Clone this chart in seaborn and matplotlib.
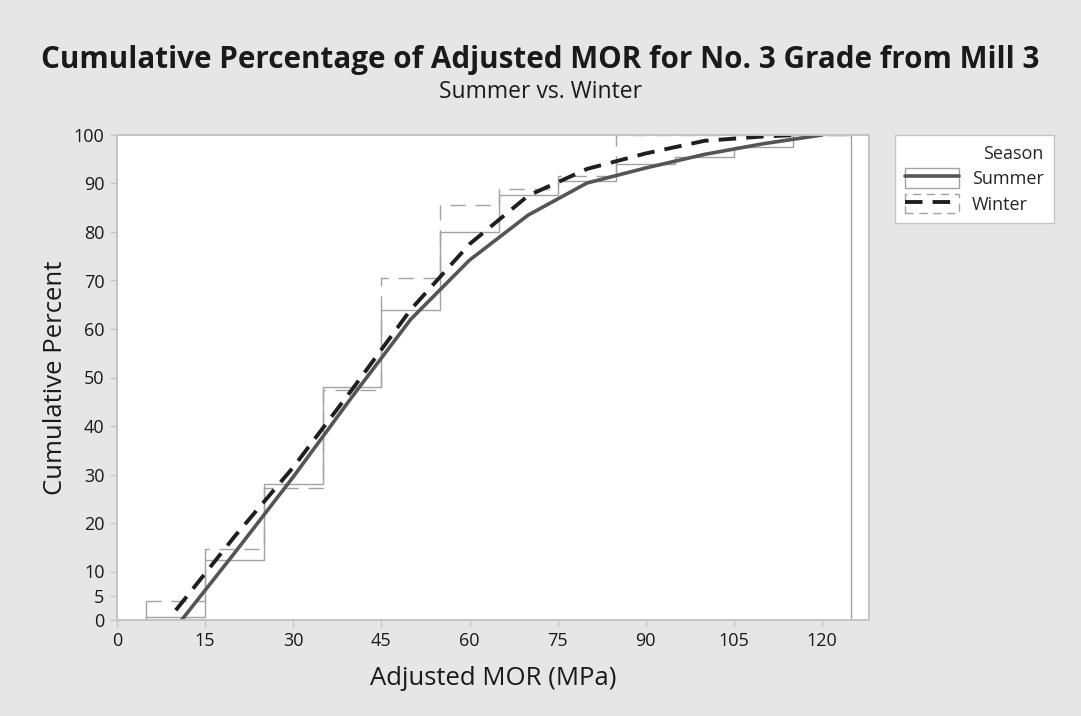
import numpy as np
import pandas as pd
import matplotlib
matplotlib.use("Agg")
import matplotlib.pyplot as plt
import seaborn as sns
from matplotlib.patches import Rectangle
from matplotlib.lines import Line2D

# ---- data ----
bin_edges = [5, 15, 25, 35, 45, 55, 65, 75, 85, 95, 105, 115, 125]
bin_centers = [10, 20, 30, 40, 50, 60, 70, 80, 90, 100, 110, 120]
summer_cum = [0.6, 12.4, 28.0, 48.0, 64.0, 80.0, 87.6, 90.5, 94.0, 95.5, 97.6, 100.0]
winter_cum = [4.0, 14.6, 27.2, 47.5, 70.6, 85.5, 88.9, 91.5, 100.0, 100.0, 100.0, 100.0]

summer_fit_x = [11, 20, 30, 40, 50, 60, 70, 80, 90, 100, 110, 120]
summer_fit_y = [0.0, 13.8, 29.5, 46.0, 62.0, 74.2, 83.5, 90.1, 93.2, 96.0, 98.2, 100.0]
winter_fit_x = [10, 20, 30, 40, 50, 60, 70, 80, 90, 100, 110, 116]
winter_fit_y = [2.0, 17.2, 31.5, 47.5, 64.0, 77.5, 87.5, 93.0, 96.2, 98.8, 99.7, 100.0]

x_ticks = [0, 15, 30, 45, 60, 75, 90, 105, 120]
y_ticks = [0, 5, 10, 20, 30, 40, 50, 60, 70, 80, 90, 100]

title = "Cumulative Percentage of Adjusted MOR for No. 3 Grade from Mill 3"
subtitle = "Summer vs. Winter"
xlabel = "Adjusted MOR (MPa)"
ylabel = "Cumulative Percent"
seasons = ["Summer", "Winter"]

# ---- style ----
sns.set_theme(style="white")
plt.rcParams["font.family"] = ["Open Sans", "DejaVu Sans"]
BG = "#e6e6e6"
STEP_C = "#a3a3a3"
SUM_C = "#555555"
WIN_C = "#1f1f1f"
SPINE_C = "#c4c4c4"
TXT_C = "#1a1a1a"

fig = plt.figure(figsize=(10.81, 7.16), dpi=100, facecolor=BG)
ax = fig.add_axes([117 / 1081, 1 - 620 / 716, (869 - 117) / 1081, (620 - 135) / 716])
ax.set_facecolor("white")

# step histograms (cumulative percentages as weights)
sns.histplot(x=bin_centers, weights=summer_cum, bins=bin_edges, element="step",
             fill=False, color=STEP_C, linewidth=1.0, ax=ax)
sns.histplot(x=bin_centers, weights=winter_cum, bins=bin_edges, element="step",
             fill=False, color=STEP_C, linewidth=1.0, linestyle=(0, (11, 7)), ax=ax)
# closing edges of the step outlines
ax.vlines([bin_edges[0]], 0, [summer_cum[0]], color=STEP_C, linewidth=1.0)
ax.vlines([bin_edges[0]], 0, [winter_cum[0]], color=STEP_C, linewidth=1.0)
ax.vlines([bin_edges[-1]], 0, [max(summer_cum[-1], winter_cum[-1])], color=STEP_C, linewidth=1.0)

# fitted curves
sns.lineplot(x=summer_fit_x, y=summer_fit_y, color=SUM_C, linewidth=2.6, ax=ax,
             sort=False, estimator=None)
sns.lineplot(x=winter_fit_x, y=winter_fit_y, color=WIN_C, linewidth=2.8, ax=ax,
             sort=False, estimator=None, linestyle=(0, (4.5, 2.6)))

ax.set_xlim(0, 128)
ax.set_ylim(0, 100)
ax.set_xticks(x_ticks)
ax.set_yticks(y_ticks)
ax.tick_params(axis="both", which="both", direction="out", length=5, width=1,
               color=SPINE_C, labelsize=13, labelcolor=TXT_C, pad=4,
               bottom=True, left=True)
for s in ax.spines.values():
    s.set_color(SPINE_C)
    s.set_linewidth(1.4)
    s.set_visible(True)
    s.set_zorder(5)

ax.set_xlabel(xlabel, fontsize=18.5, color=TXT_C, labelpad=11)
ax.set_ylabel(ylabel, fontsize=18.5, color=TXT_C, labelpad=4)

fig.text(0.5, 1 - 60 / 716, title, ha="center", va="center", fontsize=21.3,
         fontweight="bold", color=TXT_C)
fig.text(0.5, 1 - 92 / 716, subtitle, ha="center", va="center", fontsize=16.5,
         color=TXT_C)

# legend
h_sum = (Rectangle((0, 0), 1, 1, facecolor="white", edgecolor=STEP_C, linewidth=1.0),
         Line2D([0], [0], color=SUM_C, linewidth=2.6))
h_win = (Rectangle((0, 0), 1, 1, facecolor="white", edgecolor=STEP_C, linewidth=1.0,
                   linestyle=(0, (6, 4))),
         Line2D([0], [0], color=WIN_C, linewidth=2.8, linestyle=(0, (4.5, 2.6))))
leg = fig.legend([h_sum, h_win], seasons, title="Season", loc="upper left",
                 bbox_to_anchor=(895 / 1081, 1 - 135 / 716), borderaxespad=0,
                 frameon=True, framealpha=1, facecolor="white",
                 fontsize=13, title_fontsize=13, handlelength=3.0,
                 handleheight=1.3, handletextpad=0.7, borderpad=0.55,
                 labelspacing=0.3, alignment="right", fancybox=False)
leg.get_frame().set_edgecolor(SPINE_C)
leg.get_frame().set_linewidth(1.0)

fig.savefig("out.png", dpi=100, facecolor=BG)
